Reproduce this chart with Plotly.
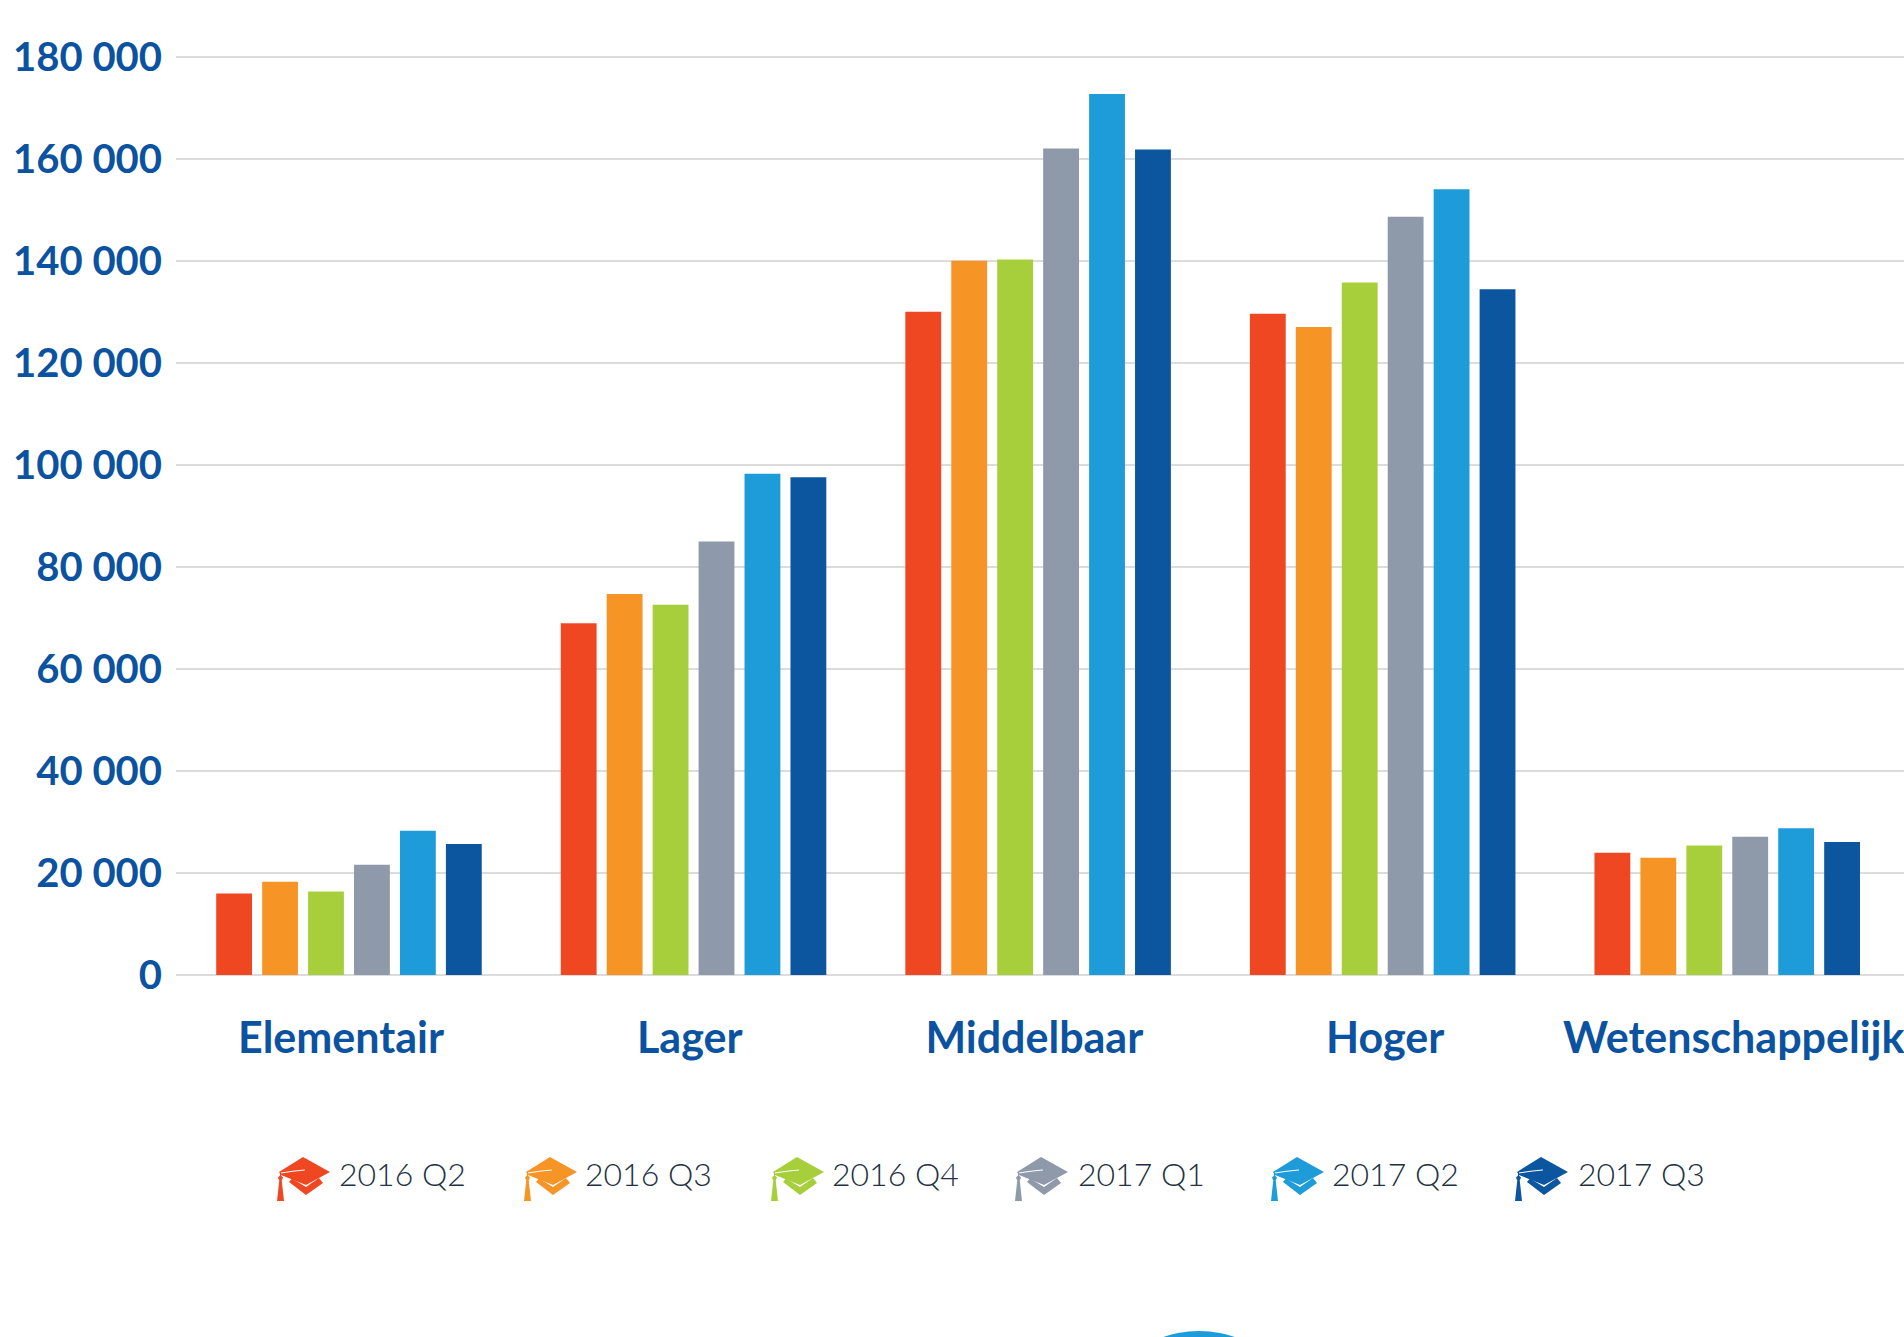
import plotly.graph_objects as go

categories = ["Elementair", "Lager", "Middelbaar", "Hoger", "Wetenschappelijk"]
q2_2016 = [16000, 69000, 130100, 129700, 24000]
q3_2016 = [18300, 74700, 140100, 127100, 23000]
q4_2016 = [16400, 72600, 140300, 135800, 25400]
q1_2017 = [21600, 85000, 162100, 148700, 27100]
q2_2017 = [28300, 98300, 172800, 154100, 28800]
q3_2017 = [25700, 97600, 161900, 134500, 26100]
series_names = ["2016 Q2", "2016 Q3", "2016 Q4", "2017 Q1", "2017 Q2", "2017 Q3"]
series_colors = ["#F04723", "#F79426", "#A7CF3C", "#8E99AA", "#1E9CD9", "#0B569F"]
tick_values = [0, 20000, 40000, 60000, 80000, 100000, 120000, 140000, 160000, 180000]
tick_labels = ["0", "20 000", "40 000", "60 000", "80 000", "100 000", "120 000", "140 000", "160 000", "180 000"]

W, H = 1904, 1337
L, T, B = 176, 57, 975
Y_TOP = 182000
TOP_MARGIN = B - (B - T) * Y_TOP / 180000
BLUE = "#0B52A0"


def px(x):
    return (x - L) / (W - L)


def py(y):
    return (B - y) / (B - T) * 180000 / Y_TOP


def poly(points):
    return "M " + " L ".join(f"{x} {-y}" for x, y in points) + " Z"


all_series = [q2_2016, q3_2016, q4_2016, q1_2017, q2_2017, q3_2017]
fig = go.Figure()
for name, color, values in zip(series_names, series_colors, all_series):
    fig.add_bar(name=name, x=categories, y=values, marker=dict(color=color, line=dict(width=0)))

# Graduation-cap legend keys (pixel-sized shapes) with real-text labels
legend_icon_x = [277, 524, 771, 1015, 1271, 1515]
legend_text_x = [337, 583, 830, 1076, 1330, 1576]
board = [(2, 15), (26, 0), (53, 15), (29, 28), (4, 18)]
base = [(15, 21.5), (29, 30), (42, 21), (46, 26), (29, 38), (12, 25)]
tassel = [(2.3, 23), (4.7, 23), (7, 44), (0, 44)]
knob = [(3, 16), (4, 16), (4, 18.5), (6, 20.5), (5, 23), (2, 23), (1, 20.5), (3, 18.5)]
shapes = []
annotations = []
for ix, tx, name, color in zip(legend_icon_x, legend_text_x, series_names, series_colors):
    for part in (board, base, tassel, knob):
        shapes.append(dict(type="path", xref="paper", yref="paper", xsizemode="pixel", ysizemode="pixel",
                           xanchor=px(ix), yanchor=py(1157), path=poly(part),
                           fillcolor=color, line=dict(width=0)))
    shapes.append(dict(type="path", xref="paper", yref="paper", xsizemode="pixel", ysizemode="pixel",
                       xanchor=px(ix), yanchor=py(1157), path="M 4 -16 Q 16 -14 28 -13",
                       line=dict(color="white", width=1)))
    annotations.append(dict(text=name, xref="paper", yref="paper", x=px(tx), y=py(1174), xanchor="left",
                            yanchor="middle", showarrow=False,
                            font=dict(family="Lato Light, Lato, sans-serif", size=32, color="#22303F")))

# Blue arc peeking in at the bottom edge of the page
shapes.append(dict(type="circle", xref="paper", yref="paper", x0=px(1091), x1=px(1307), y0=py(1547), y1=py(1331),
                   fillcolor="#1E9CD9", line=dict(width=0)))

# Category labels in the reference sit slightly off the group centres
label_nudge = [-0.023, -0.011, -0.011, 0.007, 0.019]
label_positions = [i + d for i, d in enumerate(label_nudge)]

fig.update_layout(
    width=W, height=H, autosize=False,
    margin=dict(l=L, r=0, t=TOP_MARGIN, b=H - B, pad=0),
    paper_bgcolor="white", plot_bgcolor="white",
    barmode="group", bargap=0.2, bargroupgap=0.22,
    showlegend=False, shapes=shapes, annotations=annotations,
    font=dict(family="Lato, sans-serif"),
    xaxis=dict(range=[-0.502, 4.513], tickmode="array", tickvals=label_positions, ticktext=categories,
               ticks="outside", ticklen=25, tickcolor="rgba(0,0,0,0)", showline=False, showgrid=False,
               tickfont=dict(family="Lato, sans-serif", size=43, color=BLUE, weight="bold")),
    yaxis=dict(range=[0, Y_TOP], tickmode="array", tickvals=tick_values, ticktext=tick_labels,
               ticks="outside", ticklen=5, tickcolor="rgba(0,0,0,0)", showline=False,
               showgrid=True, gridcolor="#DCDCDC", gridwidth=2, zeroline=True, zerolinecolor="#DCDCDC", zerolinewidth=2,
               tickfont=dict(family="Lato, sans-serif", size=40, color=BLUE, weight="bold")),
)
fig.write_html("out.html", config={"displayModeBar": False},
               post_script="document.body.style.margin='0';document.body.style.overflow='hidden';")
